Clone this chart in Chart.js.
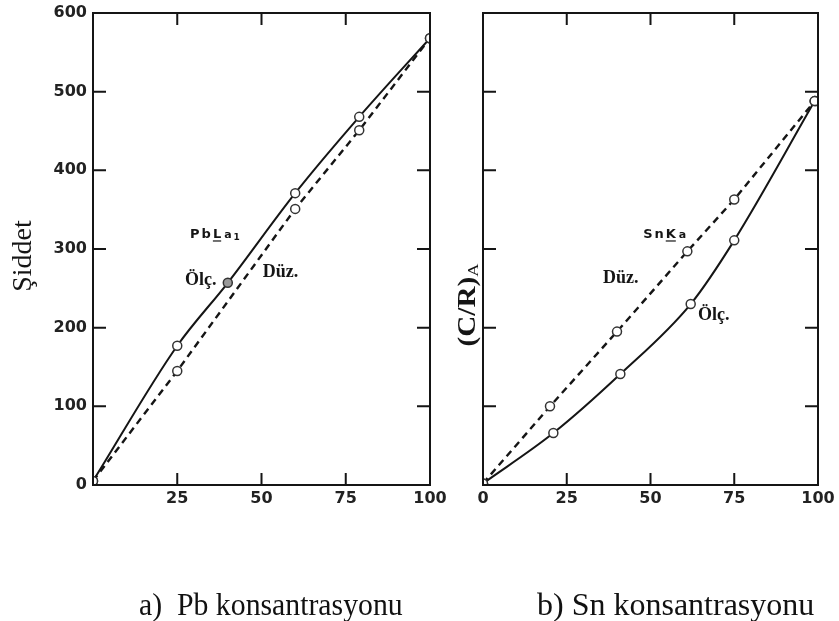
<!DOCTYPE html>
<html>
<head>
<meta charset="utf-8">
<script src="https://cdn.jsdelivr.net/npm/chart.js@4.4.1/dist/chart.umd.min.js"></script>
<style>
html,body{margin:0;padding:0;background:#fff;}
#wrap{position:relative;width:839px;height:621px;overflow:hidden;background:#fff;}
canvas{position:absolute;left:0;top:0;}
.cap{position:absolute;font-family:"Liberation Serif","Times New Roman",serif;font-size:32px;color:#111;white-space:pre;line-height:1;transform-origin:left top;}
</style>
</head>
<body>
<div id="wrap">
<canvas id="pbChart" width="839" height="621"></canvas>
<canvas id="snChart" width="839" height="621"></canvas>
<div class="cap" style="left:139px;top:588px;transform:scaleX(0.93);">a)  Pb konsantrasyonu</div>
<div class="cap" style="left:537px;top:588px;">b) Sn konsantrasyonu</div>
</div>
<script>
// axis ticks
const xTicks = [0, 25, 50, 75, 100];
const yTicks = [0, 100, 200, 300, 400, 500, 600];

// a) Pb La1
const pbOlcX = [0, 25, 40, 60, 79, 100];
const pbOlcY = [5, 177, 257, 371, 468, 568];
const pbDuzX = [0, 25, 60, 79, 100];
const pbDuzY = [5, 145, 351, 451, 568];

// b) Sn Ka
const snOlcX = [0, 21, 41, 62, 75, 99];
const snOlcY = [2, 66, 141, 230, 311, 488];
const snDuzX = [0, 20, 40, 61, 75, 99];
const snDuzY = [2, 100, 195, 297, 363, 488];

const INK = '#151515';
const tickFont = {family: '"DejaVu Sans", sans-serif', size: 16, weight: 'bold'};

function pts(xs, ys){
    return xs.map((x, i) => ({x: x, y: ys[i]}));
}

// spaced lettering like the old stencil text
function spaced(ctx, text, x, y, gap){
    for(const ch of text){
        ctx.fillText(ch, x, y);
        x += ctx.measureText(ch).width + gap;
    }
    return x;
}

// frame with inward ticks on all four sides
const framePlugin = {
    id: 'frame',
    afterDatasetsDraw(chart){
        const ctx = chart.ctx;
        const a = chart.chartArea;
        const xs = chart.scales.x, ys = chart.scales.y;
        ctx.save();
        ctx.strokeStyle = INK;
        ctx.lineWidth = 2;
        ctx.strokeRect(a.left, a.top, a.right - a.left, a.bottom - a.top);
        ctx.beginPath();
        xTicks.slice(1, -1).forEach(v => {
            const px = xs.getPixelForValue(v);
            ctx.moveTo(px, a.bottom); ctx.lineTo(px, a.bottom - 12);
            ctx.moveTo(px, a.top); ctx.lineTo(px, a.top + 12);
        });
        yTicks.slice(1, -1).forEach(v => {
            const py = ys.getPixelForValue(v);
            ctx.moveTo(a.left, py); ctx.lineTo(a.left + 13, py);
            ctx.moveTo(a.right, py); ctx.lineTo(a.right - 13, py);
        });
        ctx.stroke();
        ctx.restore();
    }
};

// inline labels, placed with the chart's own scales
const labelPlugin = {
    id: 'inlineLabels',
    afterDatasetsDraw(chart, args, opts){
        const ctx = chart.ctx;
        const xs = chart.scales.x, ys = chart.scales.y;
        ctx.save();
        ctx.fillStyle = INK;
        ctx.strokeStyle = INK;
        ctx.textBaseline = 'alphabetic';
        ctx.textAlign = 'left';
        (opts.serif || []).forEach(l => {
            ctx.font = 'bold 18px "Liberation Serif", serif';
            ctx.fillText(l.text, xs.getPixelForValue(l.x), ys.getPixelForValue(l.y));
        });
        (opts.line || []).forEach(l => {
            // element symbol + line, e.g. Pb L a1
            let x = xs.getPixelForValue(l.x);
            const y = ys.getPixelForValue(l.y);
            ctx.font = 'bold 13px "DejaVu Sans", sans-serif';
            x = spaced(ctx, l.el, x, y, 2);
            const lx = x;
            x = spaced(ctx, l.shell, x, y, 2);
            ctx.lineWidth = 1.2;
            ctx.beginPath();
            ctx.moveTo(lx, y + 3); ctx.lineTo(x - 2, y + 3);
            ctx.stroke();
            ctx.font = 'bold 11px "DejaVu Sans", sans-serif';
            x = spaced(ctx, l.greek, x + 1, y, 1);
            if(l.sub){
                ctx.font = 'bold 9px "DejaVu Sans", sans-serif';
                ctx.fillText(l.sub, x + 1, y + 2);
            }
        });
        if(opts.ytitle){
            const t = opts.ytitle;
            ctx.translate(t.px, t.py);
            ctx.rotate(-Math.PI / 2);
            ctx.textAlign = 'center';
            ctx.textBaseline = 'middle';
            if(t.sub){
                ctx.scale(1.08, 0.9);
                ctx.font = 'bold 27px "Liberation Serif", serif';
                const w1 = ctx.measureText(t.text).width;
                ctx.font = '17px "Liberation Serif", serif';
                const w2 = ctx.measureText(t.sub).width;
                const x0 = -(w1 + w2) / 2;
                ctx.textAlign = 'left';
                ctx.font = 'bold 27px "Liberation Serif", serif';
                ctx.fillText(t.text, x0, 0);
                ctx.font = '17px "Liberation Serif", serif';
                ctx.fillText(t.sub, x0 + w1, 5);
            }else{
                ctx.font = '28px "Liberation Serif", serif';
                ctx.fillText(t.text, 0, 0);
            }
        }
        ctx.restore();
    }
};

function makeOptions(padRight, yWidth, showY, hideZeroX, pluginOpts){
    return {
        responsive: false,
        animation: false,
        layout: {padding: {left: 0, right: padRight, top: 13, bottom: 0}},
        plugins: {
            legend: {display: false},
            tooltip: {enabled: false},
            inlineLabels: pluginOpts
        },
        scales: {
            x: {
                type: 'linear', min: 0, max: 100,
                afterBuildTicks: s => { s.ticks = xTicks.map(v => ({value: v})); },
                afterFit: s => { s.height = 136; s.paddingLeft = 0; s.paddingRight = 0; },
                grid: {display: false, drawTicks: false},
                border: {display: false},
                ticks: {
                    color: '#222', font: tickFont, padding: 4,
                    callback: v => (hideZeroX && v === 0) ? '' : String(v)
                }
            },
            y: {
                type: 'linear', min: 0, max: 600,
                afterBuildTicks: s => { s.ticks = yTicks.map(v => ({value: v})); },
                afterFit: s => { s.width = yWidth; s.paddingTop = 0; s.paddingBottom = 0; },
                grid: {display: false, drawTicks: false},
                border: {display: false},
                ticks: {
                    display: showY, color: '#222', font: tickFont, padding: 6
                }
            }
        }
    };
}

function lineSet(data, dashed, tension, fills){
    return {
        data: data,
        borderColor: INK,
        borderWidth: dashed ? 2.4 : 2,
        borderDash: dashed ? [7, 5] : [],
        tension: tension,
        cubicInterpolationMode: tension > 0 ? 'monotone' : 'default',
        pointRadius: 4.5,
        pointBorderWidth: 1.5,
        pointBorderColor: '#333',
        pointBackgroundColor: fills || '#fff',
        fill: false
    };
}

new Chart(document.getElementById('pbChart').getContext('2d'), {
    type: 'line',
    data: {
        datasets: [
            lineSet(pts(pbDuzX, pbDuzY), true, 0),
            lineSet(pts(pbOlcX, pbOlcY), false, 0.3, pbOlcX.map(x => x === 40 ? '#999' : '#fff'))
        ]
    },
    options: makeOptions(409, 93, true, true, {
        serif: [{text: 'Ölç.', x: 27.3, y: 254}, {text: 'Düz.', x: 50.4, y: 264}],
        line: [{el: 'Pb', shell: 'L', greek: 'a', sub: '1', x: 28.8, y: 314}],
        ytitle: {text: 'Şiddet', px: 24, py: 256}
    }),
    plugins: [framePlugin, labelPlugin]
});

new Chart(document.getElementById('snChart').getContext('2d'), {
    type: 'line',
    data: {
        datasets: [
            lineSet(pts(snDuzX, snDuzY), true, 0),
            lineSet(pts(snOlcX, snOlcY), false, 0.4)
        ]
    },
    options: makeOptions(21, 483, false, false, {
        serif: [{text: 'Düz.', x: 35.8, y: 257}, {text: 'Ölç.', x: 64.2, y: 210}],
        line: [{el: 'Sn', shell: 'K', greek: 'a', sub: '', x: 47.8, y: 314}],
        ytitle: {text: '(C/R)', sub: 'A', px: 469, py: 305}
    }),
    plugins: [framePlugin, labelPlugin]
});
</script>
</body>
</html>
